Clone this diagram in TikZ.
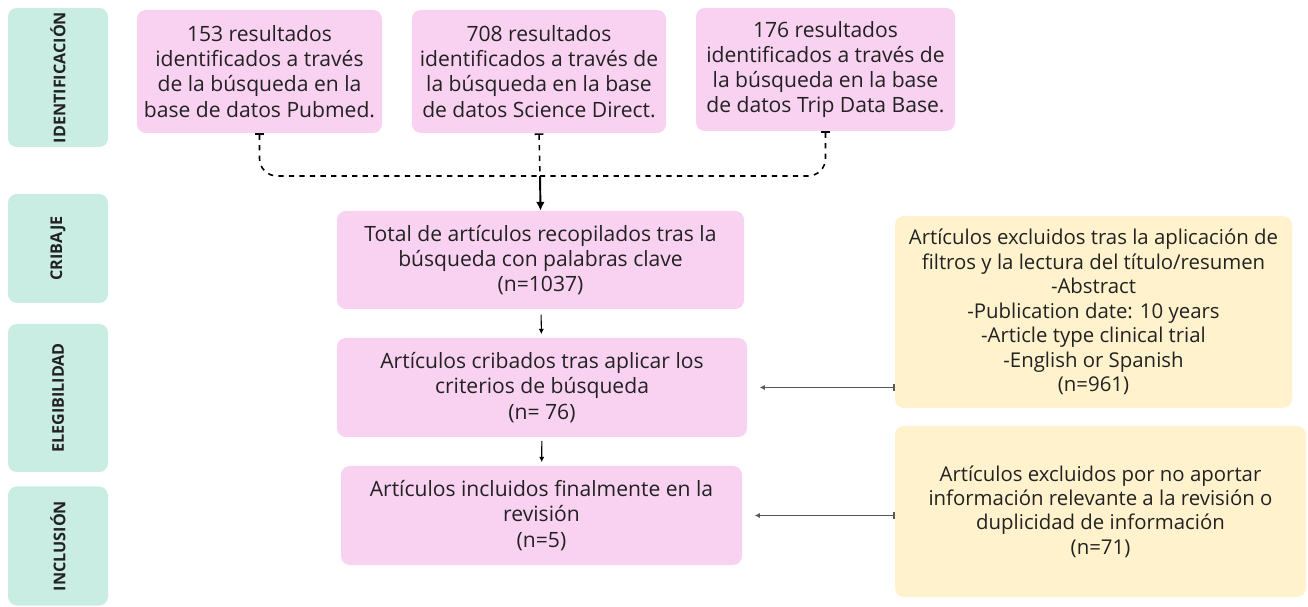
\documentclass[tikz,border=0pt]{standalone}
\usepackage{fontspec}
\setmainfont{Open Sans}
\usetikzlibrary{arrows.meta,calc}
\definecolor{stagegreen}{HTML}{C9ECE3}
\definecolor{boxpink}{HTML}{F9D1F1}
\definecolor{boxyellow}{HTML}{FFF2CD}
\definecolor{txtdark}{HTML}{222222}
\tikzset{
	stage/.style={fill=stagegreen, rounded corners=5pt, rotate=90, inner sep=0pt, font=\fontsize{9.2}{10}\selectfont\bfseries, text=txtdark},
	pinkbox/.style={fill=boxpink, rounded corners=5pt, inner sep=0pt, align=center, font=\fontsize{12}{14.3}\selectfont, text=txtdark},
	yellowbox/.style={fill=boxyellow, rounded corners=5pt, inner sep=0pt, align=center, font=\fontsize{11.6}{13.9}\selectfont, text=txtdark},
	feed/.style={dashed, line width=0.9pt, rounded corners=10pt},
	sidearrow/.style={black!65, line width=0.9pt, {Latex[length=3pt,width=3pt]}-{Bar[width=4pt]}},
}

\begin{document}
\begin{tikzpicture}[x=0.02cm, y=-0.02cm]
			%%%%% START %%%%%
			\useasboundingbox (0, 0) rectangle (1308, 607);
			
			% stages
			\node[stage, minimum width=139*0.02cm, minimum height=100*0.02cm] (stid) at (58, 77.5) {IDENTIFICACIÓN};
			\node[stage, minimum width=109*0.02cm, minimum height=100*0.02cm] (stcrib) at (58, 248.5) {CRIBAJE};
			\node[stage, minimum width=148*0.02cm, minimum height=100*0.02cm] (steleg) at (58, 398) {ELEGIBILIDAD};
			\node[stage, minimum width=119*0.02cm, minimum height=100*0.02cm] (stincl) at (58, 546) {INCLUSIÓN};
			
			% sources
			\node[pinkbox, minimum width=245*0.02cm, minimum height=123*0.02cm] (pubmed) at (259.5, 71.5) {153 resultados\\identificados a través\\de la búsqueda en la\\base de datos Pubmed.};
			\node[pinkbox, minimum width=254*0.02cm, minimum height=123*0.02cm] (scidir) at (539, 71.5) {708 resultados\\identificados a través de\\la búsqueda en la base\\de datos Science Direct.};
			\node[pinkbox, minimum width=259*0.02cm, minimum height=123*0.02cm] (trip) at (825.5, 69.5) {176 resultados\\identificados a través de\\la búsqueda en la base\\de datos Trip Data Base.};
			
			% main column
			\node[pinkbox, minimum width=407*0.02cm, minimum height=98*0.02cm] (total) at (540.5, 260) {Total de artículos recopilados tras la\\búsqueda con palabras clave\\(n=1037)};
			\node[pinkbox, minimum width=410*0.02cm, minimum height=99*0.02cm] (cribados) at (542, 387.5) {Artículos cribados tras aplicar los\\criterios de búsqueda\\(n= 76)};
			\node[pinkbox, minimum width=401*0.02cm, minimum height=99*0.02cm] (incluidos) at (541.5, 515.5) {Artículos incluidos finalmente en la\\revisión\\(n=5)};
			
			% exclusions
			\node[yellowbox, minimum width=397*0.02cm, minimum height=192*0.02cm] (excl1) at (1093.5, 312) {Artículos excluidos tras la aplicación de\\filtros y la lectura del título/resumen\\-Abstract\\-Publication date: 10 years\\-Article type clinical trial\\-English or Spanish\\(n=961)};
			\node[yellowbox, minimum width=411*0.02cm, minimum height=171*0.02cm] (excl2) at (1100.5, 511.5) {Artículos excluidos por no aportar\\información relevante a la revisión o\\duplicidad de información\\(n=71)};
			
			% connectors
			\coordinate (join) at (540, 176);
			\draw[feed, {Bar[width=5pt]}-] (pubmed.south) |- (join);
			\draw[feed, {Bar[width=5pt]}-] (trip.south) |- (join);
			\draw[feed, {Bar[width=5pt]}-] (scidir.south) -- (join);
			\draw[line width=1.1pt, -{Latex[length=5pt,width=5pt]}] (join) -- (total.north);
			
			\draw[line width=0.6pt, -{Latex[length=3pt,width=3pt]}, shorten <=3pt, shorten >=2pt] (total) -- (cribados);
			\draw[line width=0.6pt, -{Latex[length=3pt,width=3pt]}, shorten <=2pt, shorten >=2pt] (cribados) -- (incluidos);
			
			\draw[sidearrow, shorten <=7pt] (cribados.east) -- (excl1.west |- cribados.east);
			\draw[sidearrow, shorten <=7pt] (incluidos.east) -- (excl2.west |- incluidos.east);
			%%%%% END %%%%%
\end{tikzpicture}
\end{document}
